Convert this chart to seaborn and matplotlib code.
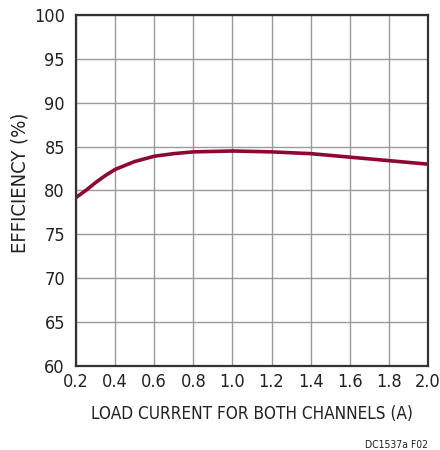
import numpy as np
import pandas as pd
import matplotlib
matplotlib.use("Agg")
import matplotlib.pyplot as plt
import seaborn as sns

# values
load_current = [0.2, 0.25, 0.3, 0.35, 0.4, 0.5, 0.6, 0.7, 0.8, 1.0, 1.2, 1.4, 1.6, 1.8, 2.0]
efficiency = [79.2, 80.0, 80.9, 81.7, 82.4, 83.3, 83.9, 84.2, 84.4, 84.5, 84.4, 84.2, 83.8, 83.4, 83.0]

x_ticks = [0.2, 0.4, 0.6, 0.8, 1.0, 1.2, 1.4, 1.6, 1.8, 2.0]
y_ticks = [60, 65, 70, 75, 80, 85, 90, 95, 100]

sns.set_style("white")
plt.rcParams['font.family'] = ['DejaVu Sans']
plt.rcParams['font.stretch'] = 'condensed'

df = pd.DataFrame({'I': load_current, 'eff': efficiency})

fig = plt.figure(figsize=(4.4, 4.5), dpi=100)
ax = fig.add_axes([0.1727, 0.1867, 0.8, 0.78])

sns.lineplot(data=df, x='I', y='eff', ax=ax, color='#8c0a30', linewidth=2.6)

ax.set_xlim(0.2, 2.0)
ax.set_ylim(60, 100)
ax.set_xticks(x_ticks)
ax.set_xticklabels([f"{v:.1f}" for v in x_ticks])
ax.set_yticks(y_ticks)
ax.grid(True, color='#9a9a9a', linewidth=1.0)
for s in ax.spines.values():
    s.set_color('#333333')
    s.set_linewidth(1.6)
ax.tick_params(axis='x', length=0, labelsize=13, colors='#222222', pad=5)
ax.tick_params(axis='y', length=0, labelsize=13, colors='#222222', pad=8)
ax.set_xlabel('LOAD CURRENT FOR BOTH CHANNELS (A)', fontsize=12.3, color='#222222', labelpad=10)
ax.set_ylabel('EFFICIENCY (%)', fontsize=14.5, color='#222222')
ax.yaxis.set_label_coords(-0.159, 0.521)
ax.yaxis.label.set_verticalalignment('center')

fig.text(0.973, 0.011, 'DC1537a F02', fontsize=7.5, ha='right', va='center', color='#222222')

fig.savefig('out.png', dpi=100)
